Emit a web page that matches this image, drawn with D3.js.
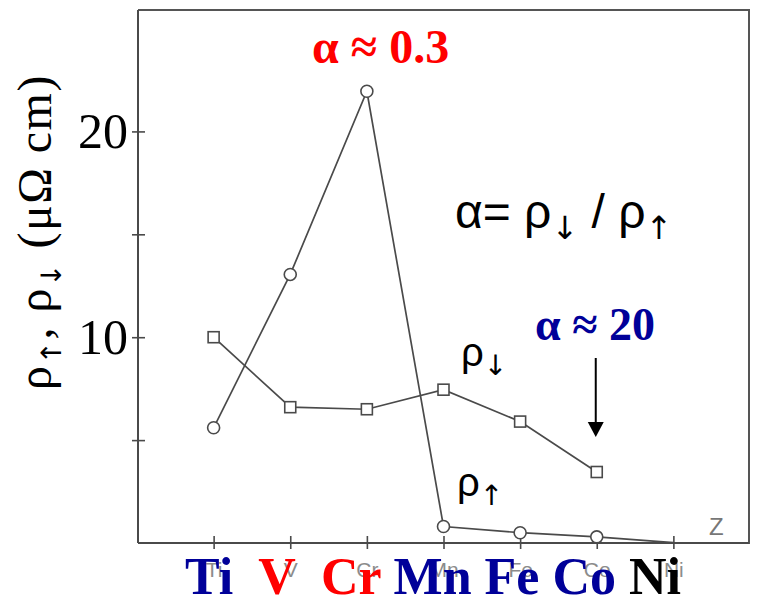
<!DOCTYPE html>
<html>
<head>
<meta charset="utf-8">
<script src="https://cdn.jsdelivr.net/npm/d3@7/dist/d3.min.js"></script>
<style>
  html, body { margin: 0; padding: 0; background: #fff; }
  svg { display: block; }
</style>
</head>
<body>
<svg id="chart" width="757" height="598"></svg>
<script>
// 3d impurities in Ni: spin-resolved residual resistivities (μΩ cm)
const elements = ["Ti", "V", "Cr", "Mn", "Fe", "Co", "Ni"];
const elementColors = ["#000099", "#ff0000", "#ff0000", "#000099", "#000099", "#000099", "#000000"];
// ρ↑ (circles); the Ni end point carries no symbol
const rhoUp = [5.6, 13.05, 21.95, 0.8, 0.5, 0.3, 0.02];
const rhoUpSymbol = [true, true, true, true, true, true, false];
// ρ↓ (squares), Ti … Co
const rhoDownElements = ["Ti", "V", "Cr", "Mn", "Fe", "Co"];
const rhoDown = [10.0, 6.6, 6.5, 7.45, 5.9, 3.45];
const yTicks = [5, 10, 15, 20];
const yTickLabels = ["", "10", "", "20"];
const yMax = 25.9;

(function draw() {
  const svg = d3.select("#chart");
  const pLeft = 138, pRight = 749, pTop = 10, pBottom = 543;
  const lineColor = "#4a4a4a";
  const serif = "'Liberation Serif', 'Times New Roman', serif";
  const sans = "'Liberation Sans', Arial, sans-serif";
  const arrowFont = "'DejaVu Sans', sans-serif";

  const x = d3.scalePoint().domain(elements).range([pLeft - 1, pRight + 1]).padding(1);
  const y = d3.scaleLinear().domain([0, yMax]).range([pBottom, pTop]);

  // frame: top and right edges
  svg.append("path")
    .attr("d", d3.line()([[pLeft, pTop], [pRight, pTop], [pRight, pBottom + 1]]))
    .attr("fill", "none").attr("stroke", "#555").attr("stroke-width", 2);

  // y axis
  const yAxis = svg.append("g")
    .attr("transform", `translate(${pLeft},0)`)
    .call(d3.axisLeft(y).tickValues(yTicks).tickSize(7).tickFormat((d, i) => yTickLabels[i]));
  yAxis.select(".domain").attr("stroke", lineColor).attr("stroke-width", 2)
    .attr("d", `M0,${pTop}V${pBottom}`);
  yAxis.selectAll(".tick line").attr("x1", 7).attr("x2", -6).attr("stroke", lineColor).attr("stroke-width", 1.6);
  yAxis.selectAll(".tick text")
    .attr("x", -10).attr("dy", "0.33em")
    .attr("font-family", serif)
    .attr("font-size", 50).attr("fill", "#000");

  // x axis
  const xAxis = svg.append("g")
    .attr("transform", `translate(0,${pBottom})`)
    .call(d3.axisBottom(x).tickSize(6));
  xAxis.select(".domain").attr("stroke", lineColor).attr("stroke-width", 2)
    .attr("d", `M${pLeft},0H${pRight}`);
  xAxis.selectAll(".tick line").attr("y1", -7).attr("y2", 6).attr("stroke", lineColor).attr("stroke-width", 1.6);
  xAxis.selectAll(".tick text")
    .attr("y", 34).attr("dy", 0)
    .attr("font-family", sans)
    .attr("font-size", 21).attr("fill", "#8c8c8c");

  // axis variable
  svg.append("text")
    .attr("x", 709).attr("y", 535)
    .attr("font-family", sans)
    .attr("font-size", 24).attr("fill", "#777")
    .text("Z");

  // series lines
  const upPts = elements.map((e, i) => [x(e), y(rhoUp[i])]);
  const downPts = rhoDownElements.map((e, i) => [x(e), y(rhoDown[i])]);
  const line = d3.line();
  svg.append("path").attr("d", line(upPts))
    .attr("fill", "none").attr("stroke", lineColor).attr("stroke-width", 1.7);
  svg.append("path").attr("d", line(downPts))
    .attr("fill", "none").attr("stroke", lineColor).attr("stroke-width", 1.7);

  // markers
  svg.selectAll("circle.up")
    .data(upPts.filter((p, i) => rhoUpSymbol[i]))
    .join("circle").attr("class", "up")
    .attr("cx", d => d[0]).attr("cy", d => d[1]).attr("r", 6)
    .attr("fill", "#fff").attr("stroke", lineColor).attr("stroke-width", 1.6);
  const sq = 11;
  svg.selectAll("rect.down")
    .data(downPts)
    .join("rect").attr("class", "down")
    .attr("x", d => d[0] - sq / 2).attr("y", d => d[1] - sq / 2)
    .attr("width", sq).attr("height", sq)
    .attr("fill", "#fff").attr("stroke", lineColor).attr("stroke-width", 1.6);

  // text with spin-arrow subscripts: parts are [string, isArrow]
  function spinText(t, parts, arrowSize, shift) {
    parts.forEach(([s, isArrow], i) => {
      const ts = t.append("tspan").text(s);
      if (isArrow) {
        ts.attr("font-family", arrowFont).attr("font-size", arrowSize).attr("dy", shift);
      } else if (i > 0 && parts[i - 1][1]) {
        ts.attr("dy", -shift);
      }
    });
  }

  // y axis title
  const ytitle = svg.append("text")
    .attr("transform", "translate(51,232) rotate(-90)")
    .attr("text-anchor", "middle")
    .attr("letter-spacing", 1.5)
    .attr("font-family", serif).attr("font-size", 48).attr("fill", "#000");
  spinText(ytitle, [["ρ", false], ["↑", true], [", ρ", false], ["↓", true], [" (μΩ cm)", false]], 28, 10);

  // element symbols under the axis
  const elText = svg.append("text")
    .attr("x", 185).attr("y", 594)
    .attr("font-family", serif).attr("font-weight", "bold")
    .attr("font-size", 52)
    .style("white-space", "pre");
  const gaps = ["  ", "  ", " ", " ", " ", " ", ""];
  elements.forEach((e, i) => {
    elText.append("tspan").attr("fill", elementColors[i]).text(e);
    if (gaps[i]) elText.append("tspan").text(gaps[i]);
  });

  // annotations
  svg.append("text")
    .attr("x", 312).attr("y", 63)
    .attr("font-family", serif).attr("font-weight", "bold")
    .attr("font-size", 48).attr("fill", "#ff0000")
    .text("α ≈ 0.3");
  svg.append("text")
    .attr("x", 535).attr("y", 340)
    .attr("font-family", serif).attr("font-weight", "bold")
    .attr("font-size", 46).attr("fill", "#000099")
    .text("α ≈ 20");

  const formula = svg.append("text")
    .attr("x", 455).attr("y", 228)
    .attr("font-family", sans).attr("font-size", 48).attr("fill", "#000");
  spinText(formula, [["α= ρ", false], ["↓", true], [" / ρ", false], ["↑", true]], 32, 11);

  function rhoLabel(xp, yp, arrow) {
    const t = svg.append("text").attr("x", xp).attr("y", yp)
      .attr("font-family", sans).attr("font-size", 40).attr("fill", "#000");
    spinText(t, [["ρ", false], [arrow, true]], 28, 9);
  }
  rhoLabel(461, 366, "↓");
  rhoLabel(457, 496, "↑");

  // arrow pointing at the Co ρ↓ point
  const ax = x("Co") - 1;
  const tipY = y(rhoDown[5]) - 35;
  svg.append("line")
    .attr("x1", ax).attr("x2", ax).attr("y1", tipY - 79).attr("y2", tipY - 12)
    .attr("stroke", "#000").attr("stroke-width", 2);
  svg.append("path")
    .attr("d", `M${ax - 8},${tipY - 15}L${ax + 8},${tipY - 15}L${ax},${tipY}Z`)
    .attr("fill", "#000");
})();
</script>
</body>
</html>
